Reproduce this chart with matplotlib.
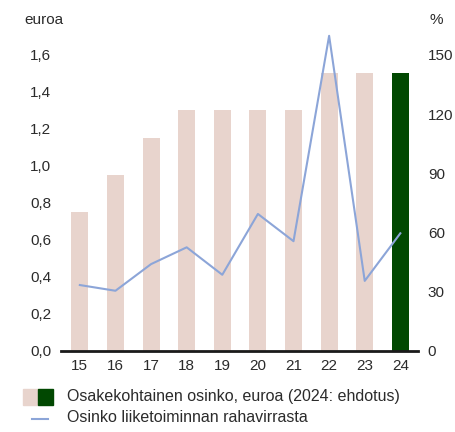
import matplotlib
matplotlib.use("Agg")
import matplotlib.pyplot as plt
from matplotlib.patches import Rectangle
from matplotlib.lines import Line2D
import numpy as np

years = ["15", "16", "17", "18", "19", "20", "21", "22", "23", "24"]
dividend = [0.75, 0.95, 1.15, 1.30, 1.30, 1.30, 1.30, 1.50, 1.50, 1.50]
payout_pct = [33.4, 30.5, 44.0, 52.5, 38.6, 69.4, 55.6, 159.6, 35.5, 59.6]

left_ticks = [0.0, 0.2, 0.4, 0.6, 0.8, 1.0, 1.2, 1.4, 1.6]
right_ticks = [0, 30, 60, 90, 120, 150]

PINK = "#e8d4cd"
GREEN = "#014801"
BLUE = "#8ca5d8"
TEXT = "#2b2b2b"
FS = 11
LEG_FS = 11.5

plt.rcParams["font.family"] = ["Liberation Sans", "DejaVu Sans"]
plt.rcParams["font.size"] = FS

fig = plt.figure(figsize=(4.55, 4.32), dpi=100)
ax = fig.add_axes([0.134, 0.1875, 0.785, 0.75])

x = np.arange(len(years))
colors = [PINK] * (len(years) - 1) + [GREEN]
ax.bar(x, dividend, width=0.48, color=colors, zorder=1)

ytop = 1.75
ax.set_ylim(0, ytop)
ax.set_xlim(-0.53, len(years) - 0.5)
ax.set_xticks(x)
ax.set_xticklabels(years)
ax.set_yticks(left_ticks)
ax.set_yticklabels([f"{v:.1f}".replace(".", ",") for v in left_ticks])

for side in ["top", "right", "left"]:
    ax.spines[side].set_visible(False)
ax.spines["bottom"].set_linewidth(2)
ax.spines["bottom"].set_color("#1a1a1a")
ax.tick_params(axis="both", length=0, colors=TEXT, labelsize=FS)
ax.tick_params(axis="y", pad=7)
ax.tick_params(axis="x", pad=6)

ax2 = ax.twinx()
ax2.set_ylim(0, ytop / 1.6 * 150)
ax2.plot(x, payout_pct, color=BLUE, lw=1.5, zorder=3)
ax2.set_yticks(right_ticks)
for side in ["top", "right", "left", "bottom"]:
    ax2.spines[side].set_visible(False)
ax2.tick_params(axis="y", length=0, colors=TEXT, labelsize=FS, pad=7)

W, H = 455, 432
fig.text(24 / W, 1 - 20 / H, "euroa", color=TEXT, fontsize=FS,
         va="center", ha="left")
fig.text(429 / W, 1 - 20 / H, "%", color=TEXT, fontsize=FS,
         va="center", ha="left")

# legend drawn by hand: split swatch for the bars, short line for the series
fig.patches.append(Rectangle((23 / W, 1 - 405 / H), 15 / W, 16 / H,
                             transform=fig.transFigure, color=PINK))
fig.patches.append(Rectangle((38 / W, 1 - 405 / H), 15 / W, 16 / H,
                             transform=fig.transFigure, color=GREEN))
fig.lines.append(Line2D([32 / W, 48 / W], [1 - 419 / H, 1 - 419 / H],
                        transform=fig.transFigure, color=BLUE, lw=1.5))
fig.text(67 / W, 1 - 397 / H, "Osakekohtainen osinko, euroa (2024: ehdotus)",
         color=TEXT, fontsize=LEG_FS, va="center", ha="left")
fig.text(67 / W, 1 - 418 / H, "Osinko liiketoiminnan rahavirrasta",
         color=TEXT, fontsize=LEG_FS, va="center", ha="left")

fig.savefig("out.png", dpi=100)
